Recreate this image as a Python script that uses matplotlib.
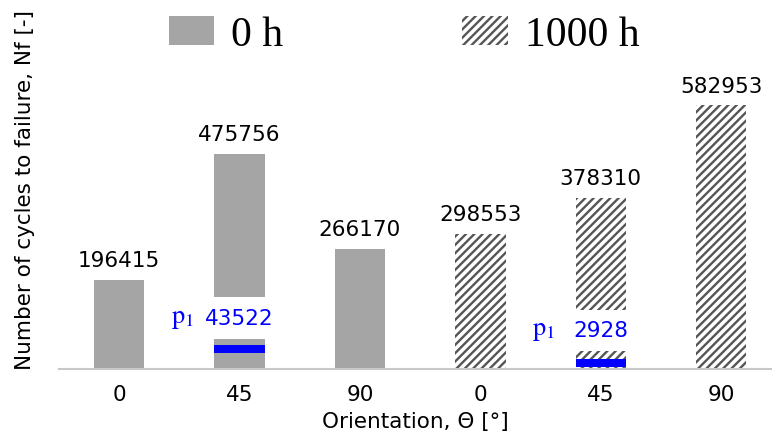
import matplotlib
matplotlib.use("Agg")
import matplotlib.pyplot as plt
from matplotlib.patches import Patch

# ---- data ----
tick_labels = ["0", "45", "90", "0", "45", "90"]
groups = ["0 h", "0 h", "0 h", "1000 h", "1000 h", "1000 h"]
cycles = [196415, 475756, 266170, 298553, 378310, 582953]
p1_index = [1, 4]
p1_values = [43522, 2928]

gray = "#a5a5a5"
hatch_col = "#555555"
blue = "#0000ff"

plt.rcParams["hatch.linewidth"] = 1.7
plt.rcParams["hatch.color"] = hatch_col
plt.rcParams["mathtext.fontset"] = "stix"

fig = plt.figure(figsize=(7.72, 4.39), dpi=100)
ax = fig.add_axes([59 / 772, 69 / 439, 1 - 59 / 772, 360 / 439])

px = 2212.0  # data units per pixel
ax.set_ylim(0, 360 * px)
ax.set_xlim(-0.5, (772 - 59) / 120.4 - 0.5)

x = list(range(len(cycles)))
width = 0.42
for xi, v, g in zip(x, cycles, groups):
    if g == "0 h":
        ax.bar(xi, v, width=width, color=gray, edgecolor="none", zorder=2)
    else:
        ax.bar(xi, v, width=width, color="white", edgecolor=hatch_col,
               linewidth=0, hatch="////", zorder=2)
    ax.annotate(f"{v}", (xi, v), xytext=(0, 7), textcoords="offset points",
                ha="center", va="bottom", fontsize=15.5, color="black",
                family="DejaVu Sans", zorder=5)

# p1 markers and labels
band = 8 * px
bottoms = [max(pv - band / 2, 2 * px) for pv in p1_values]
label_offsets = [19.5, 24]
for idx, pv, b, off in zip(p1_index, p1_values, bottoms, label_offsets):
    ax.bar(idx, band, bottom=b, width=width, color=blue,
           edgecolor="none", zorder=3)
    ax.annotate(f"{pv}", (idx, pv + band / 2), xytext=(0, off),
                textcoords="offset points", ha="center", va="center",
                fontsize=15.5, color=blue, zorder=6,
                bbox=dict(boxstyle="square,pad=0.5", fc="white", ec="none"))
    ax.annotate(r"$\mathrm{p}_1$", (idx, pv + band / 2), xytext=(-41, off + 1),
                textcoords="offset points", ha="center", va="center",
                fontsize=19, color=blue, zorder=7)

ax.set_xticks(x)
ax.set_xticklabels(tick_labels, fontsize=15.5)
ax.tick_params(axis="x", length=0, pad=11)
ax.set_yticks([])
for s in ["left", "right", "top"]:
    ax.spines[s].set_visible(False)
ax.spines["bottom"].set_color("#c8c8c8")
ax.spines["bottom"].set_linewidth(1.5)
ax.spines["bottom"].set_zorder(4)

ax.set_xlabel("Orientation, Θ [°]", fontsize=15.5, labelpad=5)
fig.text(25 / 772, 1 - 190 / 439, "Number of cycles to failure, Nf [-]",
         rotation=90, ha="center", va="center", fontsize=15.5)

handles = [Patch(facecolor=gray, edgecolor="none"),
           Patch(facecolor="white", edgecolor=hatch_col, linewidth=0, hatch="////")]
leg = fig.legend(handles, ["0 h", "1000 h"], loc="center",
                 bbox_to_anchor=(404 / 772, 1 - 36 / 439), ncol=2,
                 frameon=False, prop={"family": "Liberation Serif", "size": 30},
                 handlelength=1.1, handleheight=0.7, handletextpad=0.4,
                 columnspacing=4.3, borderpad=0)

fig.savefig("out.png", dpi=100)
